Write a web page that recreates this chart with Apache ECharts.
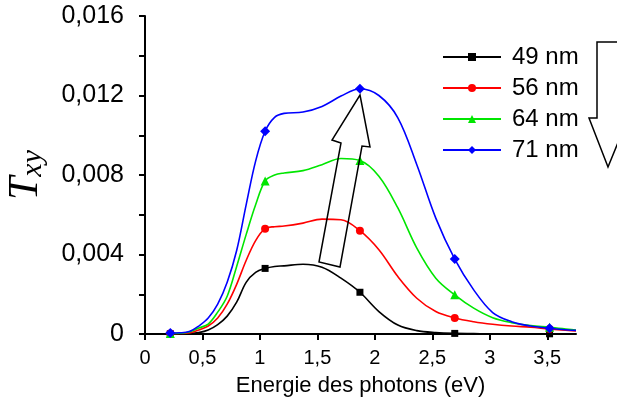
<!DOCTYPE html>
<html>
<head>
<meta charset="utf-8">
<script src="https://cdn.jsdelivr.net/npm/echarts@6/dist/echarts.min.js"></script>
<style>
html,body{margin:0;padding:0;background:#fff;}
#chart{width:617px;height:403px;}
</style>
</head>
<body>
<div id="chart"></div>
<script>
// ---- data ----
const energies = [0.22, 0.3025, 0.385, 0.4675, 0.55, 0.6325, 0.715, 0.7975, 0.88, 0.9625, 1.045, 1.1275, 1.21, 1.375, 1.54, 1.705, 1.87, 2.035, 2.2, 2.365, 2.53, 2.695, 2.86, 3.025, 3.19, 3.355, 3.52, 3.685, 3.75];
const markerEnergies = [0.22, 1.045, 1.87, 2.695, 3.52];
const seriesNames = ['49 nm', '56 nm', '64 nm', '71 nm'];
const t49 = [0.00001, 0.00001, 0.00002, 0.00007, 0.0002, 0.00047, 0.0009, 0.0016, 0.0026, 0.0031, 0.0033, 0.0034, 0.00343, 0.00351, 0.00336, 0.00281, 0.0021, 0.00113, 0.00045, 0.00017, 0.00007, 0.00003, 0.00002, 0.00001, 0.00001, 0.00001, 0.00001, 0.00001, 0.00001];
const t56 = [0.00002, 0.00003, 0.00005, 0.0002, 0.0004, 0.0008, 0.0015, 0.0025, 0.0037, 0.0047, 0.0053, 0.0054, 0.00543, 0.00558, 0.00578, 0.00575, 0.0052, 0.00424, 0.00289, 0.0018, 0.00113, 0.00081, 0.00062, 0.00049, 0.0004, 0.00034, 0.00025, 0.00018, 0.00015];
const t64 = [0.00003, 0.00004, 0.0001, 0.0003, 0.0005, 0.0011, 0.0019, 0.0034, 0.005, 0.0065, 0.0077, 0.0080, 0.0081, 0.00822, 0.00852, 0.00883, 0.00873, 0.00794, 0.00634, 0.00432, 0.00281, 0.00197, 0.0013, 0.00082, 0.00057, 0.00042, 0.00034, 0.00024, 0.0002];
const t71 = [0.00005, 0.00006, 0.00012, 0.0004, 0.0008, 0.0015, 0.0026, 0.0042, 0.0065, 0.0087, 0.0102, 0.0109, 0.0111, 0.01117, 0.01145, 0.01197, 0.01234, 0.0120, 0.01088, 0.00852, 0.00583, 0.00377, 0.00222, 0.00108, 0.00062, 0.0004, 0.00029, 0.0002, 0.00018];
const xTicks = [0, 0.5, 1, 1.5, 2, 2.5, 3, 3.5];
const yTickLabels = [0, 0.004, 0.008, 0.012, 0.016];
// ---------------------------------------

const colors = ['#000000', '#ff0000', '#00e600', '#0000ff'];
const symbols = ['rect', 'circle', 'triangle', 'diamond'];
const symbolSizes = [7, 8, 9, 10];
const values = [t49, t56, t64, t71];

function fmt(v) {
  return String(+v.toFixed(4)).replace('.', ',');
}

const series = seriesNames.map((name, i) => ({
  name: name,
  type: 'line',
  smooth: 0.35,
  showAllSymbol: true,
  symbol: symbols[i],
  symbolSize: symbolSizes[i],
  z: 2 + i,
  lineStyle: { color: colors[i], width: 1.6 },
  itemStyle: { color: colors[i] },
  emphasis: { disabled: true },
  data: energies.map((x, k) => ({
    value: [x, values[i][k]],
    symbolSize: markerEnergies.indexOf(x) >= 0 ? symbolSizes[i] : 0
  }))
}));

const chart = echarts.init(document.getElementById('chart'), null, { renderer: 'canvas' });
chart.setOption({
  animation: false,
  backgroundColor: '#ffffff',
  grid: { left: 145, right: 41, top: 16, bottom: 69, containLabel: false, outerBoundsMode: 'none' },
  legend: {
    orient: 'vertical',
    left: 437,
    top: 40,
    itemWidth: 58,
    itemHeight: 10,
    itemGap: 7,
    data: seriesNames,
    textStyle: { fontFamily: 'Liberation Sans, Arial, sans-serif', fontSize: 24, color: '#000', padding: [0, 0, 0, 6] }
  },
  xAxis: {
    type: 'value',
    min: 0,
    max: 3.75,
    interval: 0.5,
    name: 'Energie des photons (eV)',
    nameLocation: 'middle',
    nameGap: 41,
    nameTextStyle: { fontFamily: 'Liberation Sans, Arial, sans-serif', fontSize: 22, color: '#000' },
    axisLine: { lineStyle: { color: '#000', width: 2 } },
    axisTick: { show: true, length: 6, lineStyle: { color: '#000', width: 2 }, customValues: xTicks },
    axisLabel: { customValues: xTicks, fontFamily: 'Liberation Sans, Arial, sans-serif', fontSize: 20, color: '#000', margin: 14, formatter: fmt },
    splitLine: { show: false }
  },
  yAxis: {
    type: 'value',
    min: 0,
    max: 0.016,
    interval: 0.002,
    name: '{t|T}{s|xy}',
    nameLocation: 'middle',
    nameRotate: 90,
    nameGap: 97,
    nameTextStyle: {
      rich: {
        t: { fontFamily: 'Liberation Serif, serif', fontStyle: 'italic', fontSize: 42, color: '#000' },
        s: { fontFamily: 'Liberation Serif, serif', fontStyle: 'italic', fontSize: 30, color: '#000', padding: [14, 0, 0, 0] }
      }
    },
    axisLine: { show: true, lineStyle: { color: '#000', width: 2 } },
    axisTick: { show: true, length: 6, lineStyle: { color: '#000', width: 2 } },
    axisLabel: { customValues: yTickLabels, fontFamily: 'Liberation Sans, Arial, sans-serif', fontSize: 25, color: '#000', margin: 21, formatter: fmt },
    splitLine: { show: false }
  },
  graphic: [
    {
      type: 'polygon',
      z: 100,
      shape: { points: [[360, 95], [370, 147], [362, 146], [340, 267], [319, 262], [341, 143], [332, 140]] },
      style: { fill: 'rgba(0,0,0,0)', stroke: '#000', lineWidth: 1.5 }
    },
    {
      type: 'polygon',
      z: 100,
      shape: { points: [[597, 42], [622, 42], [622, 118], [628, 118], [608, 167], [589, 118], [597, 118]] },
      style: { fill: '#fff', stroke: '#000', lineWidth: 1.5 }
    }
  ],
  series: series
});
</script>
</body>
</html>
